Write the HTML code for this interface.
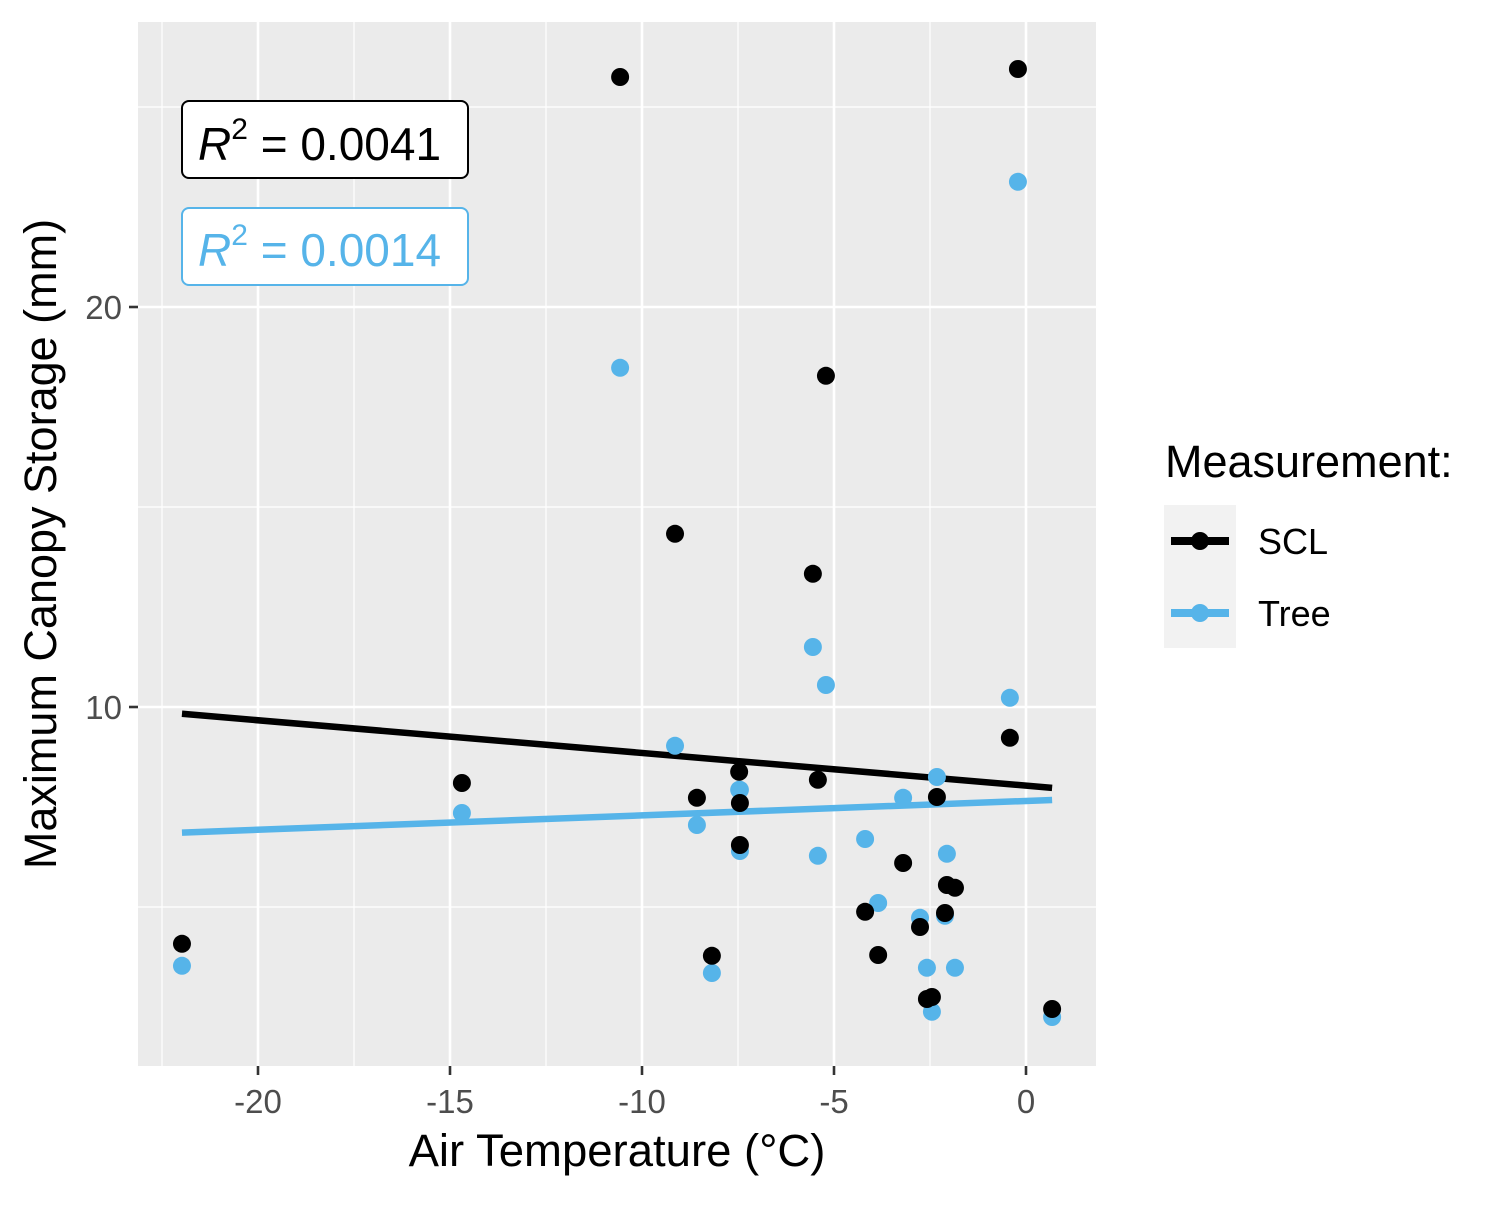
<!DOCTYPE html>
<html><head><meta charset="utf-8"><style>
body{margin:0;background:#fff}
svg text{font-family:"Liberation Sans",sans-serif}
</style></head><body>
<svg id="chart" width="1500" height="1200" xmlns="http://www.w3.org/2000/svg">
<rect x="0" y="0" width="1500" height="1200" fill="#fff"/>
<rect x="138" y="22" width="958" height="1044" fill="#ebebeb"/>
<g id="grid"></g>
<g id="fits"></g>
<g id="pts"></g>
<g id="axes"></g>
<g>
<rect x="182" y="101" width="286" height="77" rx="7" fill="#fff" stroke="#000" stroke-width="2"/>
<text x="198" y="160" font-size="46" fill="#000"><tspan font-style="italic">R</tspan><tspan font-size="30" dy="-21">2</tspan><tspan dy="21"> = 0.0041</tspan></text>
</g>
<g>
<rect x="182" y="208" width="286" height="77" rx="7" fill="#fff" stroke="#56B4E9" stroke-width="2"/>
<text x="198" y="266" font-size="46" fill="#56B4E9"><tspan font-style="italic">R</tspan><tspan font-size="30" dy="-21">2</tspan><tspan dy="21"> = 0.0014</tspan></text>
</g>
<text x="617" y="1166" font-size="45.5" text-anchor="middle" fill="#000">Air Temperature (°C)</text>
<text transform="translate(56,544) rotate(-90)" font-size="45" text-anchor="middle" fill="#000">Maximum Canopy Storage (mm)</text>
<g>
<text x="1165" y="477" font-size="45" fill="#000">Measurement:</text>
<rect x="1164" y="505" width="72" height="143" fill="#f2f2f2"/>
<g>
<line x1="1171" y1="541" x2="1229" y2="541" stroke="#000" stroke-width="8"/>
<circle cx="1200" cy="541" r="9" fill="#000"/>
<text x="1258" y="554" font-size="36" fill="#000">SCL</text></g>
<g>
<line x1="1171" y1="613" x2="1229" y2="613" stroke="#56B4E9" stroke-width="8"/>
<circle cx="1200" cy="613" r="9" fill="#56B4E9"/>
<text x="1258" y="626" font-size="36" fill="#000">Tree</text></g>
</g>
</svg>
<script>
const temps=[-21.98,-14.69,-10.57,-9.14,-8.57,-8.18,-7.47,-7.45,-7.45,-5.55,-5.42,-5.21,-4.19,-3.85,-3.2,-2.76,-2.58,-2.45,-2.32,-2.11,-2.06,-1.85,-0.42,-0.21,0.68];
const sclValues=[4.08,8.1,25.75,14.33,7.73,3.78,8.38,7.6,6.55,13.33,8.18,18.28,4.88,3.8,6.1,4.5,2.7,2.75,7.75,4.85,5.55,5.48,9.23,25.95,2.45];
const treeValues=[3.53,7.35,18.48,9.03,7.05,3.35,7.93,7.93,6.4,11.5,6.28,10.55,6.7,5.1,7.73,4.73,3.48,2.38,8.25,4.78,6.33,3.48,10.23,23.13,2.25];
const sclFit=[9.83,-0.0817];   // y = a + b*(x - minTemp)
const treeFit=[6.86,0.036];
const xTicks=[-20,-15,-10,-5,0];
const yTicks=[10,20];
const xMinor=[-22.5,-17.5,-12.5,-7.5,-2.5];
const yMinor=[5,15,25];
const NS='http://www.w3.org/2000/svg';
const X=v=>1026+38.4*v, Y=v=>1107-40*v;
function mk(tag,attrs,parent){const e=document.createElementNS(NS,tag);for(const k in attrs)e.setAttribute(k,attrs[k]);document.getElementById(parent).appendChild(e);return e;}
xMinor.forEach(v=>{const l=mk('line',{x1:X(v),x2:X(v),y1:22,y2:1066,stroke:'#fff','stroke-width':1.2},'grid');

});
yMinor.forEach(v=>{const l=mk('line',{x1:138,x2:1096,y1:Y(v),y2:Y(v),stroke:'#fff','stroke-width':1.2},'grid');

});
xTicks.forEach(v=>{const l=mk('line',{x1:X(v),x2:X(v),y1:22,y2:1066,stroke:'#fff','stroke-width':2.6},'grid');


mk('line',{x1:X(v),x2:X(v),y1:1066,y2:1075,stroke:'#333','stroke-width':2.6},'axes');
const t=mk('text',{x:X(v),y:1113,'font-size':33,'text-anchor':'middle',fill:'#4d4d4d'},'axes');t.textContent=v;

});
yTicks.forEach(v=>{const l=mk('line',{x1:138,x2:1096,y1:Y(v),y2:Y(v),stroke:'#fff','stroke-width':2.6},'grid');


mk('line',{x1:129,x2:138,y1:Y(v),y2:Y(v),stroke:'#333','stroke-width':2.6},'axes');
const t=mk('text',{x:122,y:Y(v)+12,'font-size':33,'text-anchor':'end',fill:'#4d4d4d'},'axes');t.textContent=v;

});
const x0=Math.min(...temps), x1=Math.max(...temps);
[[sclFit,'#000','scl-fit-line'],[treeFit,'#56B4E9','tree-fit-line']].forEach(([f,c,n])=>{
const l=mk('line',{x1:X(x0),x2:X(x1),y1:Y(f[0]),y2:Y(f[0]+f[1]*(x1-x0)),stroke:c,'stroke-width':6.5},'fits');

});
temps.forEach((t,i)=>{
const c=mk('circle',{cx:X(t),cy:Y(treeValues[i]),r:9,fill:'#56B4E9'},'pts');

});
temps.forEach((t,i)=>{
const c=mk('circle',{cx:X(t),cy:Y(sclValues[i]),r:9,fill:'#000'},'pts');

});
</script>
</body></html>
